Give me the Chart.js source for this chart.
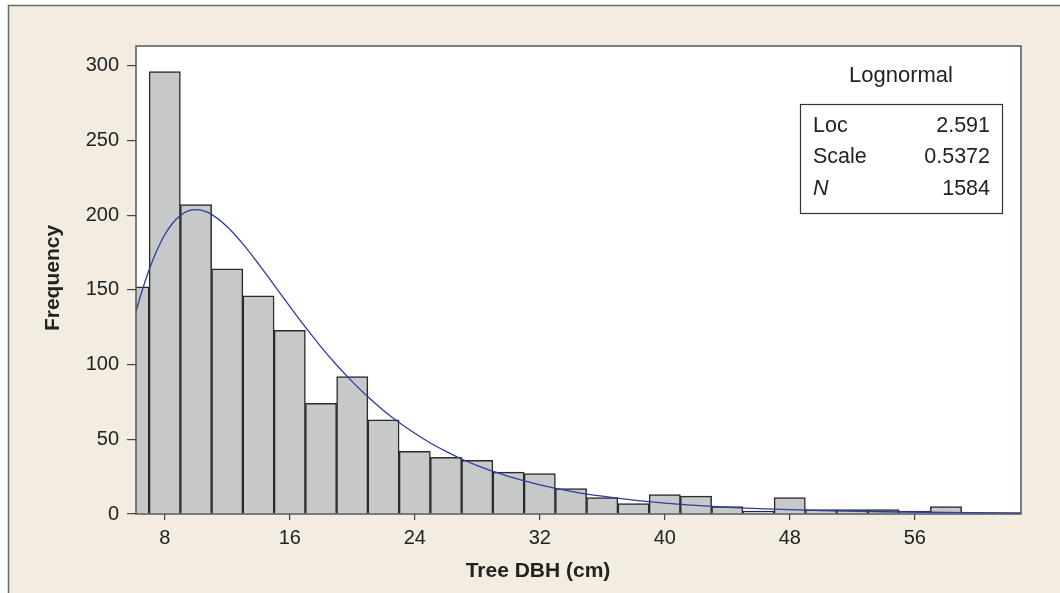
<!DOCTYPE html>
<html>
<head>
<meta charset="utf-8">
<script src="https://cdn.jsdelivr.net/npm/chart.js@4.4.1/dist/chart.umd.min.js"></script>
<style>
html,body{margin:0;padding:0;background:#fff;}
#wrap{position:relative;width:1060px;height:593px;}
canvas{display:block;}
</style>
</head>
<body>
<div id="wrap"><canvas id="c" width="1060" height="593"></canvas></div>
<script>
// ---- data ----
const binCenters = [6,8,10,12,14,16,18,20,22,24,26,28,30,32,34,36,38,40,42,44,46,48,50,52,54,56,58,60,62];
const counts     = [152,296,207,164,146,123,74,92,63,42,38,36,28,27,17,11,7,13,12,5,2,11,3,3,3,2,5,1,1];
const curveX = [6,6.5,7,7.5,8,8.5,9,9.5,10,10.5,11,12,13,14,15,16,17,18,19,20,21,22,23,24,25,26,27,28,29,30,32,34,36,38,40,43,46,50,54,58,63];
const curveY = [129.6,147.7,163.4,176.5,186.9,194.6,199.8,202.8,203.7,202.8,200.5,192.3,180.8,167.4,153.2,138.9,125.0,111.9,99.7,88.6,78.4,69.3,61.2,54.0,47.5,41.9,36.8,32.4,28.6,25.1,19.5,15.2,11.9,9.3,7.3,5.1,3.6,2.3,1.5,1.0,0.6];
const xTicks = [8,16,24,32,40,48,56];
const yTicks = [0,50,100,150,200,250,300];
const xTitle = 'Tree DBH (cm)';
const yTitle = 'Frequency';
const fitName = 'Lognormal';
const statLabels = ['Loc','Scale','N'];
const statValues = ['2.591','0.5372','1584'];

const FONT = '"Liberation Sans", Arial, Helvetica, sans-serif';
const BEIGE = '#f2ece1';

const framePlugin = {
  id: 'frame',
  beforeDraw(chart) {
    const ctx = chart.ctx, a = chart.chartArea;
    ctx.save();
    ctx.fillStyle = '#ffffff';
    ctx.fillRect(0, 0, chart.width, chart.height);
    ctx.fillStyle = BEIGE;
    ctx.fillRect(8, 5, chart.width - 8, chart.height - 5);
    ctx.strokeStyle = '#6a6a6a';
    ctx.lineWidth = 1.5;
    ctx.beginPath();
    ctx.moveTo(8.5, chart.height);
    ctx.lineTo(8.5, 5.5);
    ctx.lineTo(chart.width, 5.5);
    ctx.stroke();
    ctx.fillStyle = '#ffffff';
    ctx.fillRect(a.left, a.top, a.right - a.left, a.bottom - a.top);
    ctx.restore();
  },
  afterDraw(chart) {
    const ctx = chart.ctx, a = chart.chartArea;
    ctx.save();
    ctx.strokeStyle = '#555555';
    ctx.lineWidth = 1.5;
    ctx.strokeRect(a.left, a.top, a.right - a.left, a.bottom - a.top);

    ctx.fillStyle = '#222222';
    ctx.font = 'bold 21px ' + FONT;
    ctx.textAlign = 'center';
    ctx.textBaseline = 'middle';
    ctx.fillText(xTitle, 538, 571);
    ctx.save();
    ctx.translate(53, 278);
    ctx.rotate(-Math.PI / 2);
    ctx.fillText(yTitle, 0, 0);
    ctx.restore();

    // fit info box
    ctx.font = '22px ' + FONT;
    ctx.fillText(fitName, 901, 76);
    ctx.strokeStyle = '#333333';
    ctx.lineWidth = 1.2;
    ctx.strokeRect(800.5, 104.5, 202, 109);
    const rows = [126, 157.5, 189];
    statLabels.forEach((lab, i) => {
      ctx.textAlign = 'left';
      ctx.font = (lab === 'N' ? 'italic ' : '') + '21.5px ' + FONT;
      ctx.fillText(lab, 813, rows[i]);
      ctx.textAlign = 'right';
      ctx.font = '21.5px ' + FONT;
      ctx.fillText(statValues[i], 990, rows[i]);
    });
    ctx.restore();
  }
};

new Chart(document.getElementById('c'), {
  data: {
    datasets: [
      {
        type: 'line',
        data: curveX.map((x, i) => ({x: x, y: curveY[i]})),
        borderColor: '#2f3d9e',
        borderWidth: 1.3,
        pointRadius: 0,
        cubicInterpolationMode: 'monotone',
        fill: false,
        order: 0
      },
      {
        type: 'bar',
        data: binCenters.map((x, i) => ({x: x, y: counts[i]})),
        backgroundColor: '#c7c8ca',
        borderColor: '#2a2a2a',
        borderWidth: 1.5,
        borderSkipped: 'start',
        barPercentage: 1,
        categoryPercentage: 1,
        order: 1
      }
    ]
  },
  options: {
    responsive: false,
    animation: false,
    devicePixelRatio: 1,
    layout: { padding: { left: 0, right: 39, top: 46, bottom: 0 } },
    plugins: { legend: { display: false }, tooltip: { enabled: false }, title: { display: false } },
    scales: {
      x: {
        type: 'linear',
        offset: false,
        min: 6.16,
        max: 62.8,
        afterBuildTicks: s => { s.ticks = xTicks.map(v => ({value: v})); },
        afterFit: s => { s.height = 79; },
        grid: { offset: false, drawOnChartArea: false, drawTicks: true, tickLength: 6, color: '#444', lineWidth: 1.2 },
        border: { display: false },
        ticks: { color: '#222', font: { family: FONT, size: 20 }, padding: 6, maxRotation: 0, autoSkip: false }
      },
      y: {
        type: 'linear',
        min: 0,
        max: 313.2,
        afterBuildTicks: s => { s.ticks = yTicks.map(v => ({value: v})); },
        afterFit: s => { s.width = 136; },
        grid: { drawOnChartArea: false, drawTicks: true, tickLength: 9, color: '#444', lineWidth: 1.2 },
        border: { display: false },
        ticks: { color: '#222', font: { family: FONT, size: 20 }, padding: 8, autoSkip: false }
      }
    }
  },
  plugins: [framePlugin]
});
</script>
</body>
</html>
